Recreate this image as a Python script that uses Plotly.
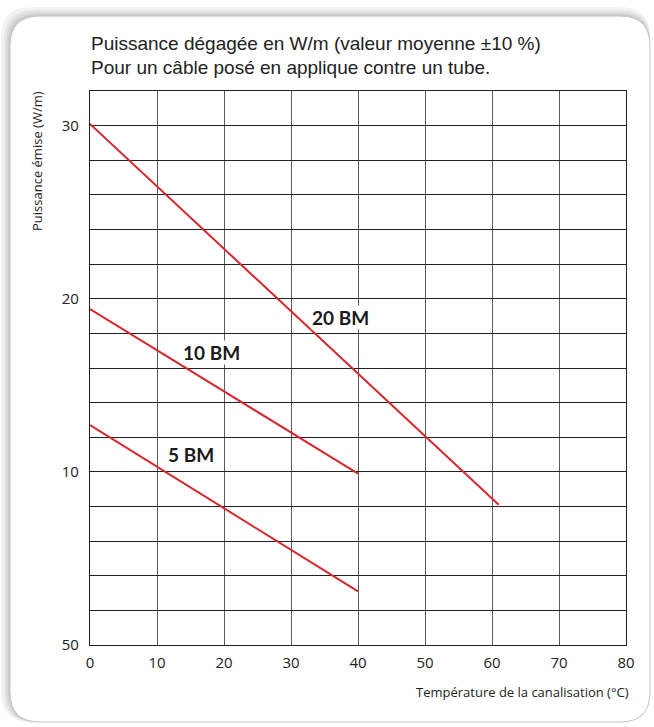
import plotly.graph_objects as go

# Data
temp_20bm = [0, 61]
power_20bm = [30.1, 8.1]
temp_10bm = [0, 40]
power_10bm = [19.4, 9.9]
temp_5bm = [0, 40]
power_5bm = [12.7, 3.1]

series_names = ["20 BM", "10 BM", "5 BM"]
label_pos = [(37.4, 18.9), (18.1, 16.9), (15.0, 11.0)]

x_ticks = [0, 10, 20, 30, 40, 50, 60, 70, 80]
y_tickvals = [0, 10, 20, 30]
y_ticktext = ["50", "10", "20", "30"]

W, H = 654, 727
L, R, T, B = 90, 626, 91, 645
PW, PH = R - L, B - T

def px(xp):
    return (xp - L) / PW

def py(yp):
    return (B - yp) / PH

def rrect(x0, y0, x1, y1, r):
    p = f"M {px(x0 + r)} {py(y0)} L {px(x1 - r)} {py(y0)} "
    p += f"Q {px(x1)} {py(y0)} {px(x1)} {py(y0 + r)} "
    p += f"L {px(x1)} {py(y1 - r)} Q {px(x1)} {py(y1)} {px(x1 - r)} {py(y1)} "
    p += f"L {px(x0 + r)} {py(y1)} Q {px(x0)} {py(y1)} {px(x0)} {py(y1 - r)} "
    p += f"L {px(x0)} {py(y0 + r)} Q {px(x0)} {py(y0)} {px(x0 + r)} {py(y0)} Z"
    return p

red = "#d7262d"
fig = go.Figure()
# invisible trace carrying the horizontal grid axis
fig.add_trace(go.Scatter(x=[None], y=[None], yaxis="y2", showlegend=False))
for xs, ys in [(temp_20bm, power_20bm), (temp_10bm, power_10bm), (temp_5bm, power_5bm)]:
    fig.add_trace(go.Scatter(x=xs, y=ys, mode="lines",
                             line=dict(color=red, width=2), showlegend=False,
                             hoverinfo="skip"))

shapes = []
shadow = [(9, "#f3f3f3"), (6, "#e6e6e6"), (4, "#dadada"), (2, "#cdcdcd")]
for off, col in shadow:
    shapes.append(dict(type="path", xref="paper", yref="paper", layer="below",
                       path=rrect(10 - off, 16 - off, 650, 722, 30),
                       fillcolor=col, line=dict(width=0)))
shapes.append(dict(type="path", xref="paper", yref="paper", layer="below",
                   path=rrect(10, 16, 650, 722, 30),
                   fillcolor="white", line=dict(color="#c4c4c4", width=1)))

annotations = []
for name, (ax_, ay_) in zip(series_names, label_pos):
    annotations.append(dict(x=ax_, y=ay_, xref="x", yref="y", text=f"<b>{name}</b>",
                            showarrow=False, bgcolor="white",
                            font=dict(family="Lato", size=19, color="#1a1a1a"),
                            borderpad=0))
annotations.append(dict(x=px(89), y=py(44), xref="paper", yref="paper",
                        text="Puissance dégagée en W/m (valeur moyenne ±10 %)",
                        showarrow=False, xanchor="left", yanchor="middle",
                        font=dict(family="Liberation Sans", size=19, color="#222")))
annotations.append(dict(x=px(89), y=py(67), xref="paper", yref="paper",
                        text="Pour un câble posé en applique contre un tube.",
                        showarrow=False, xanchor="left", yanchor="middle",
                        font=dict(family="Liberation Sans", size=19, color="#222")))
annotations.append(dict(x=px(631), y=py(692), xref="paper", yref="paper",
                        text="Température de la canalisation (°C)",
                        showarrow=False, xanchor="right", yanchor="middle",
                        font=dict(family="Open Sans", size=13, color="#222")))
annotations.append(dict(x=px(37), y=py(161), xref="paper", yref="paper",
                        text="Puissance émise (W/m)", textangle=-90,
                        showarrow=False, xanchor="center", yanchor="middle",
                        font=dict(family="Open Sans", size=13, color="#222")))

fig.update_layout(
    width=W, height=H,
    margin=dict(l=L, r=W - R, t=T, b=H - B),
    paper_bgcolor="white", plot_bgcolor="rgba(0,0,0,0)",
    shapes=shapes, annotations=annotations,
    xaxis=dict(range=[0, 80], tickvals=x_ticks, showgrid=True, gridcolor="#5a5a5a",
               gridwidth=1.3, zeroline=False, showline=True, linecolor="#222",
               linewidth=1.3, mirror=True, ticks="outside", ticklen=4,
               tickcolor="rgba(0,0,0,0)",
               tickfont=dict(family="Open Sans", size=15, color="#222")),
    yaxis=dict(range=[0, 32], tickvals=y_tickvals, ticktext=y_ticktext,
               showgrid=False, zeroline=False, showline=True, linecolor="#222",
               linewidth=1.3, mirror=True, ticks="outside", ticklen=7,
               tickcolor="rgba(0,0,0,0)",
               tickfont=dict(family="Open Sans", size=15, color="#222")),
    yaxis2=dict(range=[0, 32], overlaying="y", dtick=2, tick0=0, showgrid=True,
                gridcolor="#222", gridwidth=1.3, showticklabels=False,
                zeroline=False, side="right"),
)
fig.write_html("out.html", config={"displayModeBar": False},
               post_script="document.body.style.margin='0';document.body.style.overflow='hidden';")
